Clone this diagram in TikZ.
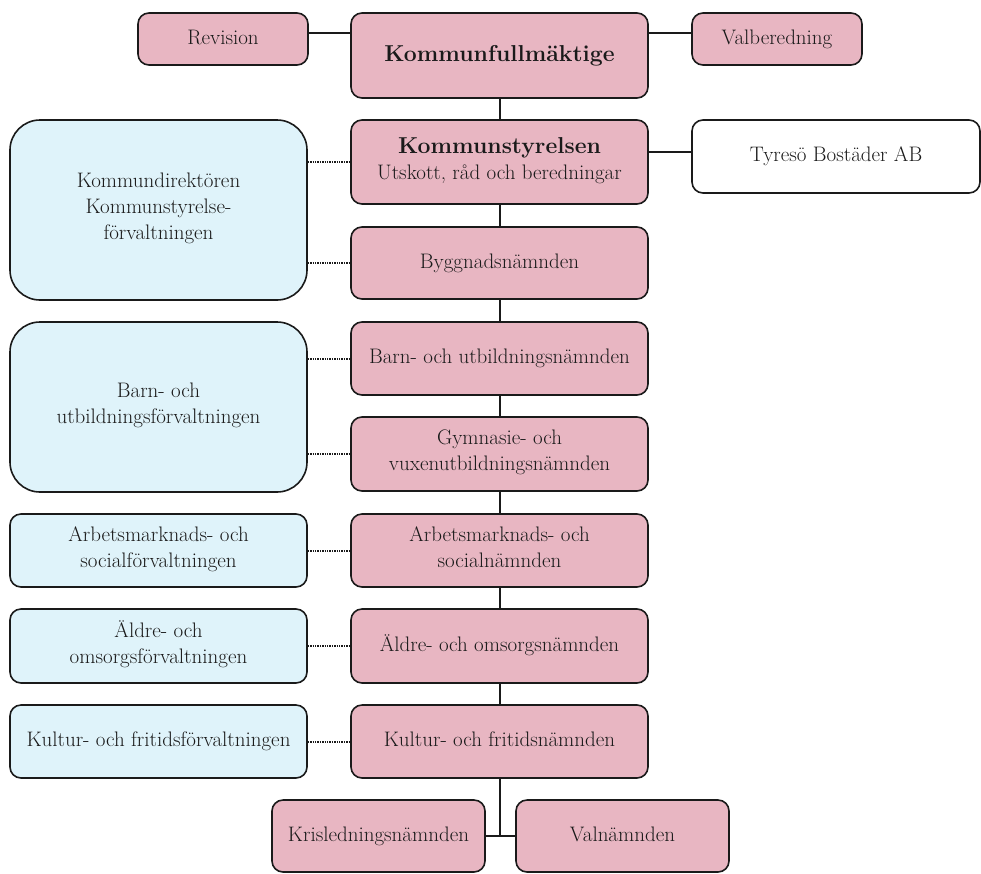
\documentclass[tikz,border=0pt]{standalone}
\usepackage{tikz}
\usetikzlibrary{positioning, calc}
\definecolor{namnd}{HTML}{E8B6C2}
\definecolor{forv}{HTML}{DFF3FA}
\definecolor{ink}{HTML}{1A1A1A}
\tikzset{
	box/.style={draw=ink, line width=1.6pt, rounded corners=11pt, align=center, text=ink, font=\fontsize{21}{26}\selectfont, inner sep=2pt, execute at begin node=\strut, execute at end node=\strut},
	pinkbox/.style={box, fill=namnd, minimum width=297pt, minimum height=73pt},
	bluebox/.style={box, fill=forv, minimum width=297pt, minimum height=73pt},
	line/.style={draw=ink, line width=2pt},
	dotline/.style={draw=ink, line width=2pt, dash pattern=on 1.4pt off 1pt}
}
\begin{document}
\begin{tikzpicture}[x=1pt, y=-1pt]
			\useasboundingbox (0,0) rectangle (981,873);
			\node [pinkbox, minimum height=85pt, font=\bfseries\fontsize{23}{28}\selectfont] (kf) at (499.5,55.5) {Kommunfullmäktige};
			\node [pinkbox, minimum width=170pt, minimum height=52pt] (rev) at (223,39) {Revision};
			\node [pinkbox, minimum width=170pt, minimum height=52pt] (valb) at (777,39) {Valberedning};
			\node [pinkbox, minimum height=84pt] (ks) at (499.5,162) {{\bfseries\fontsize{23}{28}\selectfont Kommunstyrelsen}\\Utskott, råd och beredningar};
			\node [box, fill=white, minimum width=288pt, minimum height=73pt] (tyr) at (836,156.5) {Tyresö Bostäder AB};
			\node [pinkbox, minimum height=72pt] (bygg) at (499.5,263) {Byggnadsnämnden};
			\node [pinkbox] (bun) at (499.5,358.5) {Barn- och utbildningsnämnden};
			\node [pinkbox, minimum height=74pt] (gvn) at (499.5,454) {Gymnasie- och\\vuxenutbildningsnämnden};
			\node [pinkbox] (asn) at (499.5,550.5) {Arbetsmarknads- och\\socialnämnden};
			\node [pinkbox, minimum height=74pt] (aon) at (499.5,646) {Äldre- och omsorgsnämnden};
			\node [pinkbox] (kfn) at (499.5,741.5) {Kultur- och fritidsnämnden};
			\node [pinkbox, minimum width=213pt, minimum height=72pt] (kris) at (378.5,836) {Krisledningsnämnden};
			\node [pinkbox, minimum width=213pt, minimum height=72pt] (valn) at (622.5,836) {Valnämnden};
			\node [bluebox, minimum height=180pt, rounded corners=30pt] (ksf) at (158.5,210) {Kommundirektören\\Kommunstyrelse-\\förvaltningen};
			\node [bluebox, minimum height=170pt, rounded corners=30pt] (buf) at (158.5,407) {Barn- och\\utbildningsförvaltningen};
			\node [bluebox] (asf) at (158.5,550.5) {Arbetsmarknads- och\\socialförvaltningen};
			\node [bluebox, minimum height=74pt] (aof) at (158.5,646) {Äldre- och\\omsorgsförvaltningen};
			\node [bluebox] (kff) at (158.5,741.5) {Kultur- och fritidsförvaltningen};
			\draw [line] ([yshift=6pt]rev.east) -- ([yshift=6pt]rev.east -| kf.west);
			\draw [line] ([yshift=6pt]valb.west) -- ([yshift=6pt]valb.west -| kf.east);
			\draw [line] ([yshift=10pt]ks.east) -- ([yshift=10pt]ks.east -| tyr.west);
			\draw [line] (kf) -- (ks) -- (bygg) -- (bun) -- (gvn) -- (asn) -- (aon) -- (kfn);
			\coordinate (fork) at (kfn.south |- kris.east);
			\draw [line] (kfn.south) -- (fork);
			\draw [line] (kris.east) -- (valn.west);
			\draw [dotline] (ks.west -| ksf.east) -- (ks.west);
			\draw [dotline] (bygg.west -| ksf.east) -- (bygg.west);
			\draw [dotline] (bun.west -| buf.east) -- (bun.west);
			\draw [dotline] (gvn.west -| buf.east) -- (gvn.west);
			\draw [dotline] (asf) -- (asn);
			\draw [dotline] (aof) -- (aon);
			\draw [dotline] (kff) -- (kfn);
		\end{tikzpicture}
\end{document}
